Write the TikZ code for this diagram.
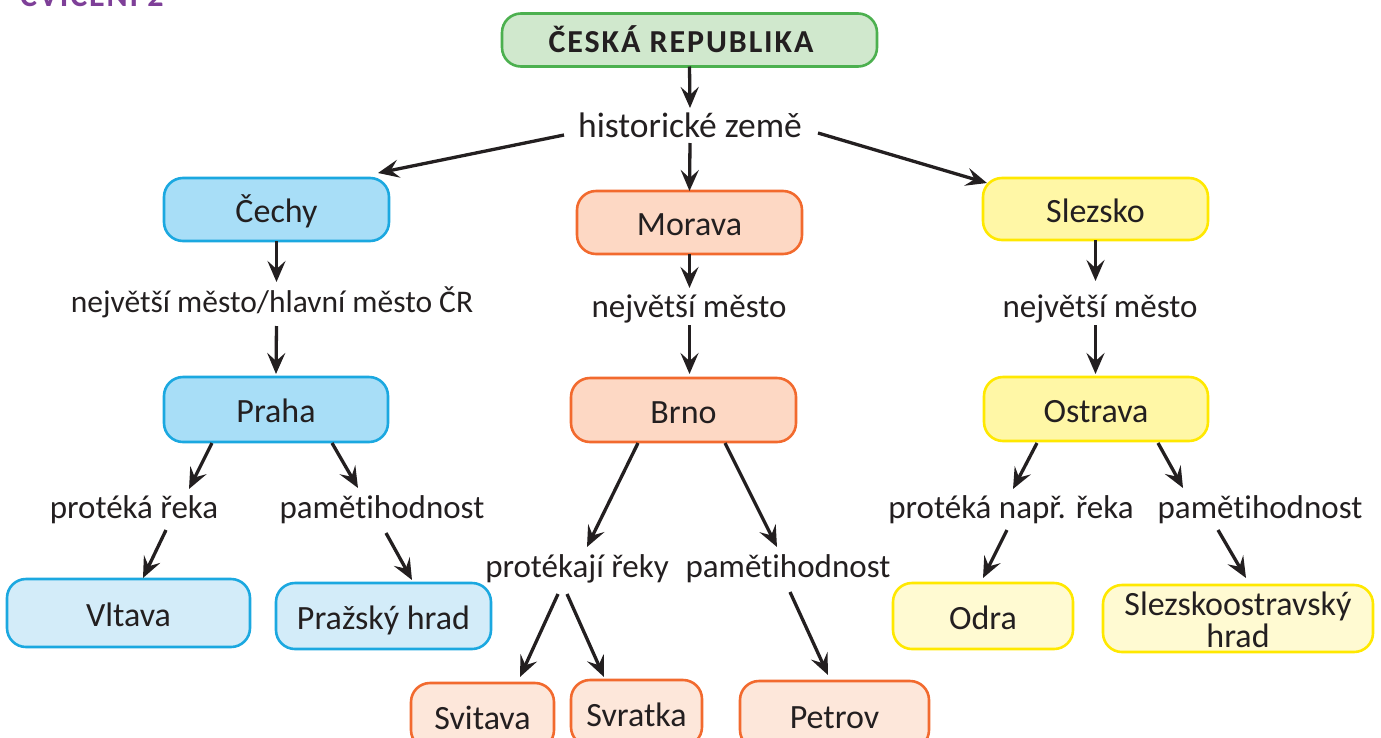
\documentclass[tikz,border=0pt]{standalone}
\usepackage{fontspec}
\setmainfont{Carlito}[Ligatures=CommonOff]
\newfontfamily\spacedfont{Carlito}[LetterSpace=6,Ligatures=CommonOff]
\usetikzlibrary{arrows.meta,calc}

\definecolor{ink}{HTML}{231F20}
\definecolor{headpurple}{HTML}{7E3F98}
\definecolor{greenfill}{HTML}{D0E8CD}
\definecolor{greenline}{HTML}{4CB04F}
\definecolor{bluefill}{HTML}{A8DEF7}
\definecolor{bluelight}{HTML}{D3ECF9}
\definecolor{blueline}{HTML}{1BA8E0}
\definecolor{orangefill}{HTML}{FDD8C4}
\definecolor{orangelight}{HTML}{FDE7DA}
\definecolor{orangeline}{HTML}{F26A2E}
\definecolor{yellowfill}{HTML}{FFF7A6}
\definecolor{yellowlight}{HTML}{FFFAD2}
\definecolor{yellowline}{HTML}{FFE800}

\begin{document}
\begin{tikzpicture}[x=1pt,y=-1pt,
  box/.style={draw, rounded corners=19pt, line width=2.6pt, inner sep=0pt,
    outer sep=0pt, text=ink, align=center,
    font=\fontsize{34}{32}\selectfont, text height=26pt, text depth=0pt},
  sz/.style 2 args={minimum width=#1pt, minimum height=#2pt},
  bluebox/.style={box, fill=bluefill, draw=blueline},
  bluesoft/.style={box, fill=bluelight, draw=blueline},
  orangebox/.style={box, fill=orangefill, draw=orangeline},
  orangesoft/.style={box, fill=orangelight, draw=orangeline},
  yellowbox/.style={box, fill=yellowfill, draw=yellowline},
  yellowsoft/.style={box, fill=yellowlight, draw=yellowline},
  lbl/.style={inner sep=0pt, outer sep=0pt, anchor=base, text=ink,
    font=\fontsize{33}{34}\selectfont},
  heading/.style={inner sep=0pt, font=\spacedfont\bfseries\fontsize{32}{32}\selectfont},
  arr/.style={draw=ink, line width=3.3pt,
    -{Stealth[length=21pt,width=18pt,inset=8pt]}}
]
\clip (0,0) rectangle (1381,737);

% exercise heading, partly above the page edge
\node[heading, anchor=base west, text=headpurple] (cv) at (20,6) {CVIČENÍ 2};

% root
\node[box, fill=greenfill, draw=greenline, sz={375}{53}, heading,
  text=ink, text height=24pt, text depth=0pt] (cr) at (689.5,40)
  {ČESKÁ REPUBLIKA\kern17pt};
\node[lbl, font=\fontsize{35.5}{36}\selectfont] (hz) at (690,137) {historické země};

% lands
\node[bluebox,   sz={225}{63}] (cechy)   at (276.5,209.5) {Čechy};
\node[orangebox, sz={225}{63}] (morava)  at (689.5,222.5) {Morava};
\node[yellowbox, sz={225}{62}] (slezsko) at (1095.5,209)  {Slezsko};

\node[lbl, font=\fontsize{31.5}{34}\selectfont] (l2) at (272,312)  {největší město/hlavní město ČR};
\node[lbl] (l3) at (689,317)  {největší město};
\node[lbl] (l4) at (1100,317) {největší město};

% largest cities
\node[bluebox,   sz={224}{65}] (praha)   at (276,409.5) {Praha};
\node[orangebox, sz={225}{64}] (brno)    at (683.5,410) {Brno};
\node[yellowbox, sz={224}{64}] (ostrava) at (1096,409)  {Ostrava};

\node[lbl] (l5)  at (134,518)  {protéká řeka};
\node[lbl] (l6)  at (382,518)  {pamětihodnost};
\node[lbl] (l7)  at (577,577)  {protékají řeky};
\node[lbl] (l8)  at (788,577)  {pamětihodnost};
\node[lbl] (l9)  at (1011,518) {protéká např. řeka};
\node[lbl] (l10) at (1260,518) {pamětihodnost};

% rivers and landmarks
\node[bluesoft,   sz={243}{68}] (vltava)  at (128.5,613)  {Vltava};
\node[bluesoft,   sz={215}{66}] (prazsky) at (383.5,616)  {Pražský hrad};
\node[orangesoft, sz={143}{66}] (svitava) at (482.5,716)  {Svitava};
\node[orangesoft, sz={131}{66}] (svratka) at (636.5,713)  {Svratka};
\node[orangesoft, sz={189}{68}] (petrov)  at (834.5,715)  {Petrov};
\node[yellowsoft, sz={180}{66}] (odra)    at (983,616)    {Odra};
\node[yellowsoft, sz={270}{67}, text height=57pt] (slhrad) at (1238,618.5)
  {Slezskoostravský\\hrad};

% connectors
\draw[arr] (cr.south) -- ($(hz.base)+(0,-29)$);
\draw[arr] ($(hz.base)+(0,6)$) -- (morava.north);
\draw[arr] ($(hz.base)+(-126,-2)$) -- ($(cechy.north east)+(-11,-5)$);
\draw[arr] ($(hz.base)+(128,-4)$) -- ($(slezsko.north west)+(4,5)$);

\draw[arr] (cechy.south) -- ($(cechy.south |- l2.base)+(0,-30)$);
\draw[arr] ($(cechy.south |- l2.base)+(0,14)$) -- ($(praha.north)+(0,-3)$);
\draw[arr] (morava.south) -- ($(morava.south |- l3.base)+(0,-29)$);
\draw[arr] ($(morava.south |- l3.base)+(0,8)$) -- ($(morava.south |- brno.north)+(0,-4)$);
\draw[arr] (slezsko.south) -- ($(slezsko.south |- l4.base)+(0,-36)$);
\draw[arr] ($(slezsko.south |- l4.base)+(0,8)$) -- ($(slezsko.south |- ostrava.north)+(0,-3)$);

\draw[arr] ($(praha.south)+(-64,1)$) -- ($(l5.base)+(55,-29)$);
\draw[arr] ($(praha.south)+(56,1)$) -- ($(l6.base)+(-24,-30)$);
\draw[arr] ($(l5.base)+(32,12)$) -- ($(vltava.north)+(14.5,-1)$);
\draw[arr] ($(l6.base)+(4,15)$) -- ($(prazsky.north)+(28.5,-3)$);

\draw[arr] ($(brno.south)+(-45.5,1)$) -- ($(l7.base)+(10,-30)$);
\draw[arr] ($(brno.south)+(41.5,1)$) -- ($(l8.base)+(-11,-30)$);
\draw[arr] ($(l7.base)+(-19,17)$) -- ($(svitava.north)+(37.5,-6)$);
\draw[arr] ($(l7.base)+(-10,17)$) -- ($(svratka.north)+(-32.5,-3)$);
\draw[arr] ($(l8.base)+(2,15)$) -- ($(petrov.north)+(-6.5,-6)$);

\draw[arr] ($(ostrava.south)+(-59,2)$) -- ($(l9.base)+(2,-29)$);
\draw[arr] ($(ostrava.south)+(62,2)$) -- ($(l10.base)+(-77,-30)$);
\draw[arr] ($(l9.base)+(-4,12)$) -- ($(odra.north)+(0,-5)$);
\draw[arr] ($(l10.base)+(-42,12)$) -- ($(slhrad.north)+(8,-7)$);
\end{tikzpicture}
\end{document}
